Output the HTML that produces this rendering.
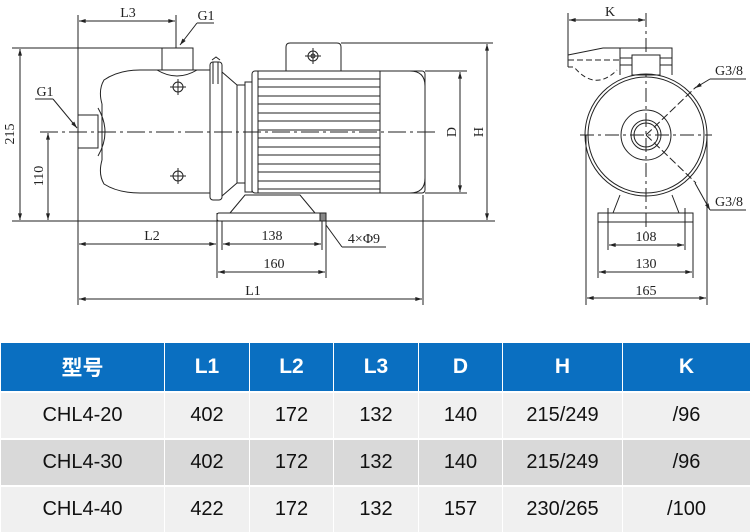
<!DOCTYPE html>
<html><head><meta charset="utf-8"><style>
html,body{margin:0;padding:0;background:#fff;width:750px;height:532px;overflow:hidden}
svg{position:absolute;left:0;top:0}
.t{position:absolute;left:0;top:343px;width:750px;border-collapse:collapse;table-layout:fixed;font-family:"Liberation Sans","Noto Sans CJK SC",sans-serif}
.t td{text-align:center;padding:0;border-left:1px solid #fff;border-right:1px solid #fff;color:#111;font-size:20px}
.t tr.h td{background:#0a6fc1;color:#fff;font-weight:bold;font-size:21px;height:48px}
.t tr.r td{height:45px;border-top:2px solid #fff}
.t tr.a td{background:#f0f0f0}
.t tr.b td{background:#d9d9d9}
</style></head><body>
<svg width="750" height="340" viewBox="0 0 750 340" font-family="Liberation Serif, serif" font-size="14" fill="none" stroke="#222" stroke-width="1">
<defs><marker id="a" viewBox="0 0 10 6" refX="10" refY="3" markerWidth="8" markerHeight="4" orient="auto-start-reverse"><path d="M0,0L10,3L0,6z" fill="#222" stroke="none"/></marker></defs>
<g>
<line x1="78" y1="15" x2="78" y2="305"/><line x1="176" y1="15" x2="176" y2="48"/>
<line x1="79" y1="21" x2="175" y2="21" marker-start="url(#a)" marker-end="url(#a)"/>
<line x1="197" y1="23" x2="214" y2="23"/><line x1="197" y1="23" x2="180" y2="45" marker-end="url(#a)"/>
<line x1="12" y1="48" x2="162" y2="48"/><line x1="12" y1="221" x2="495" y2="221"/>
<line x1="20" y1="49" x2="20" y2="220" marker-start="url(#a)" marker-end="url(#a)"/>
<line x1="48" y1="133" x2="48" y2="220" marker-start="url(#a)" marker-end="url(#a)"/>
<line x1="40" y1="132" x2="437" y2="132" stroke-dasharray="18,4,3,4"/>
<line x1="35" y1="99" x2="53" y2="99"/><line x1="53" y1="99" x2="77" y2="128" marker-end="url(#a)"/>
<rect x="78" y="115" width="20" height="33"/>
<path d="M98,108 Q112,132 98,156"/>
<path d="M102,104 Q98,90 104,80 Q118,70 140,70 L210,70 M102,160 Q98,174 104,184 Q118,193 140,193 L210,193 M102,104 L102,160"/>
<rect x="162" y="48" width="31" height="22"/>
<path d="M157,70 Q177,82 197,70"/>
<circle cx="178" cy="87" r="5"/><path d="M170,87h16M178,79v16"/>
<circle cx="178" cy="176" r="5"/><path d="M170,176h16M178,168v16"/>
<rect x="210" y="62" width="12" height="138" rx="3"/>
<path d="M213,62v22M218,62v22"/><path d="M212,60l4,-3 4,3" />
<path d="M222,72 L237,85 L245,85 L245,183 L237,183 L222,196"/>
<line x1="237" y1="85" x2="237" y2="183"/>
<rect x="245" y="82" width="7" height="110"/>
<rect x="252" y="71" width="173" height="122" rx="3"/>
<path d="M380,71 h30 q15,0 15,15 v92 q0,15 -15,15 h-30z"/>
<line x1="258" y1="71" x2="258" y2="193"/>
<g stroke-width="0.9">
<path d="M258,79h122M258,87h122M258,96h122M258,104h122M258,113h122M258,121h122M258,130h122M258,138h122M258,147h122M258,155h122M258,164h122M258,172h122M258,181h122M258,189h122"/>
</g>
<path d="M286,71 V47 q0,-4 4,-4 h47 q4,0 4,4 V71"/>
<circle cx="313" cy="56" r="5"/><circle cx="313" cy="56" r="2"/><path d="M305,56h16M313,48v16"/>
<path d="M230,213 L245,195 L300,195 L315,213"/>
<rect x="217" y="213" width="109" height="8" rx="2"/>
<rect x="320" y="213" width="6" height="8" fill="#888"/>
<line x1="217" y1="213" x2="217" y2="278"/><line x1="326" y1="221" x2="326" y2="278"/><line x1="222" y1="221" x2="222" y2="250"/><line x1="322" y1="221" x2="322" y2="250"/>
<line x1="423" y1="195" x2="423" y2="305"/>
<line x1="79" y1="244" x2="216" y2="244" marker-start="url(#a)" marker-end="url(#a)"/>
<line x1="223" y1="244" x2="321" y2="244" marker-start="url(#a)" marker-end="url(#a)"/>
<line x1="218" y1="272" x2="325" y2="272" marker-start="url(#a)" marker-end="url(#a)"/>
<line x1="79" y1="299" x2="422" y2="299" marker-start="url(#a)" marker-end="url(#a)"/>
<line x1="326" y1="225" x2="342" y2="247"/><line x1="342" y1="247" x2="386" y2="247"/>
<line x1="425" y1="71" x2="467" y2="71"/><line x1="425" y1="193" x2="467" y2="193"/><line x1="341" y1="43" x2="493" y2="43"/>
<line x1="460" y1="72" x2="460" y2="192" marker-start="url(#a)" marker-end="url(#a)"/>
<line x1="487" y1="44" x2="487" y2="220" marker-start="url(#a)" marker-end="url(#a)"/>
</g>
<g>
<line x1="568" y1="13" x2="568" y2="67"/><line x1="646" y1="13" x2="646" y2="232" stroke-dasharray="14,4,3,4"/>
<line x1="569" y1="20" x2="645" y2="20" marker-start="url(#a)" marker-end="url(#a)"/>
<path d="M568,55 L603,48 L672,48 L672,75 M620,48 V75 M620,58 h52 M620,65 h52"/>
<line x1="568" y1="60" x2="620" y2="60" stroke-dasharray="6,3"/>
<path d="M568,67 h6 Q595,92 617,70" stroke-dasharray="5,3"/>
<rect x="632" y="55" width="28" height="20" fill="#fff"/>
<circle cx="646" cy="135" r="61"/><circle cx="646" cy="135" r="58"/>
<circle cx="646" cy="135" r="25"/><circle cx="646" cy="135" r="15"/><circle cx="646" cy="135" r="12"/>
<line x1="580" y1="135" x2="712" y2="135" stroke-dasharray="14,4,3,4"/>
<line x1="646" y1="135" x2="696" y2="87" stroke-dasharray="8,3"/><line x1="646" y1="135" x2="696" y2="183" stroke-dasharray="8,3"/>
<line x1="710" y1="79" x2="746" y2="79"/><line x1="710" y1="79" x2="695" y2="88" marker-end="url(#a)"/>
<line x1="710" y1="210" x2="746" y2="210"/><line x1="710" y1="210" x2="695" y2="183" marker-start="url(#a)"/>
<path d="M620,195 L613,213 M672,195 L679,213"/>
<rect x="598" y="213" width="95" height="9"/>
<line x1="608" y1="208" x2="608" y2="250"/><line x1="685" y1="208" x2="685" y2="250"/>
<line x1="598" y1="222" x2="598" y2="278"/><line x1="693" y1="222" x2="693" y2="278"/>
<line x1="586" y1="135" x2="586" y2="305"/><line x1="707" y1="135" x2="707" y2="305"/>
<line x1="609" y1="245" x2="684" y2="245" marker-start="url(#a)" marker-end="url(#a)"/>
<line x1="599" y1="272" x2="692" y2="272" marker-start="url(#a)" marker-end="url(#a)"/>
<line x1="587" y1="298" x2="706" y2="298" marker-start="url(#a)" marker-end="url(#a)"/>
</g>
<g fill="#222" stroke="none" text-anchor="middle">
<text x="128" y="17">L3</text><text x="206" y="20">G1</text><text x="45" y="96">G1</text>
<text transform="translate(14,134) rotate(-90)">215</text>
<text transform="translate(43,176) rotate(-90)">110</text>
<text transform="translate(456,132) rotate(-90)">D</text>
<text transform="translate(483,132) rotate(-90)">H</text>
<text x="152" y="240">L2</text><text x="272" y="240">138</text><text x="364" y="243">4×Φ9</text>
<text x="274" y="268">160</text><text x="253" y="295">L1</text>
<text x="610" y="16">K</text><text x="729" y="75">G3/8</text><text x="729" y="206">G3/8</text>
<text x="646" y="241">108</text><text x="646" y="268">130</text><text x="646" y="295">165</text>
</g>
</svg>
<table class="t">
<colgroup><col style="width:164px"><col style="width:85px"><col style="width:84px"><col style="width:85px"><col style="width:84px"><col style="width:120px"><col style="width:128px"></colgroup>
<tr class="h"><td>型号</td><td>L1</td><td>L2</td><td>L3</td><td>D</td><td>H</td><td>K</td></tr>
<tr class="r a"><td>CHL4-20</td><td>402</td><td>172</td><td>132</td><td>140</td><td>215/249</td><td>/96</td></tr>
<tr class="r b"><td>CHL4-30</td><td>402</td><td>172</td><td>132</td><td>140</td><td>215/249</td><td>/96</td></tr>
<tr class="r a"><td>CHL4-40</td><td>422</td><td>172</td><td>132</td><td>157</td><td>230/265</td><td>/100</td></tr>
</table>
</body></html>
